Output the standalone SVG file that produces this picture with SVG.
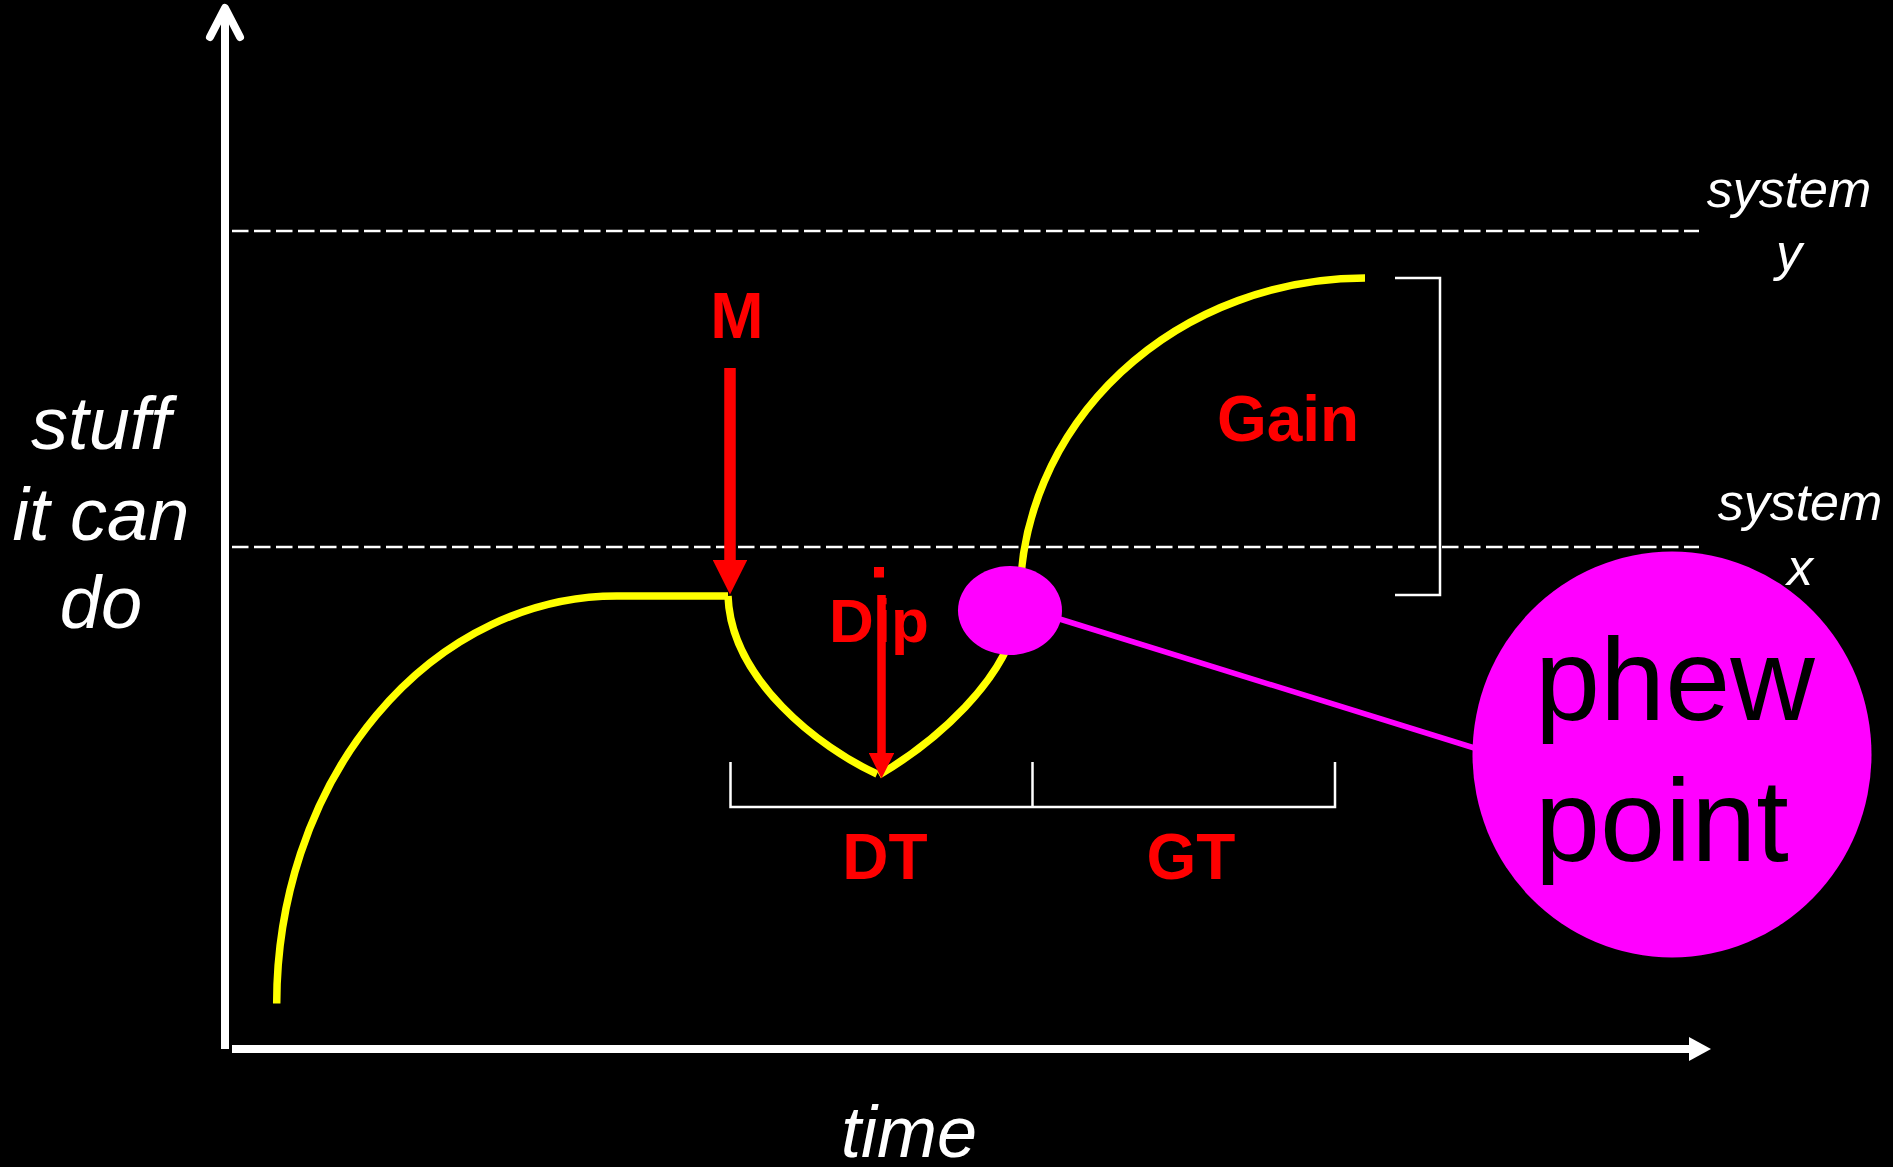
<svg xmlns="http://www.w3.org/2000/svg" width="1893" height="1167" viewBox="0 0 1893 1167">
<style>
.lbl{font-family:"Liberation Sans",Arial,sans-serif}
.wi{fill:#fff;font-style:italic}
.red{fill:#f00;font-weight:bold;font-size:64px}
.dash{stroke:#fff;stroke-width:2.5;stroke-dasharray:16.5 5.5;fill:none}
.brk{stroke:#fff;stroke-width:2.5;fill:none}
.yel{stroke:#ff0;stroke-width:7.5;fill:none}
.rarrow{stroke:#f00;fill:none;marker-end:url(#rhead)}
</style>
<defs>
<marker id="rhead" viewBox="0 0 3 3" markerWidth="3" markerHeight="3" refX="0" refY="1.5" orient="auto" markerUnits="strokeWidth">
<path d="M0,0 L3,1.5 L0,3 z" fill="#f00"/>
</marker>
</defs>
<rect x="0" y="0" width="1893" height="1167" fill="#000"/>

<g id="axes">
<line x1="225" y1="10" x2="225" y2="1049" stroke="#fff" stroke-width="8"/>
<polyline points="210,37 225,8 240,37" stroke="#fff" stroke-width="8" fill="none" stroke-linecap="round" stroke-linejoin="round"/>
<line x1="232" y1="1049" x2="1690" y2="1049" stroke="#fff" stroke-width="8"/>
<polygon points="1689,1037 1711,1049 1689,1061" fill="#fff"/>
</g>

<g id="levels">
<line class="dash" x1="232" y1="231" x2="1699" y2="231"/>
<line class="dash" x1="232" y1="547" x2="1699" y2="547"/>
</g>

<g id="curve">
<path class="yel" d="M276.7,1003.5 A340,407.5 0 0 1 616.7,596 L728,596"/>
<path class="yel" d="M728,596 C731,680 820,748 877,774"/>
<path class="yel" d="M879,775 C925,748 1015,680 1020,600 A345,322 0 0 1 1365,278"/>
</g>

<g id="brackets">
<polyline class="brk" points="1395,278 1440,278 1440,595 1395,595"/>
<polyline class="brk" points="730.5,762 730.5,807 1335,807 1335,762"/>
<line class="brk" x1="1032.5" y1="762" x2="1032.5" y2="807"/>
</g>

<g id="connectors">
<line x1="1058" y1="618.5" x2="1476" y2="748.5" stroke="#f0f" stroke-width="5.5"/>
<line class="rarrow" x1="730" y1="368" x2="730" y2="560" stroke-width="11.5"/>
</g>

<g id="phew-small">
<ellipse cx="1010" cy="610.5" rx="52" ry="44.5" fill="#f0f"/>
</g>

<g id="phew-point">
<ellipse cx="1672" cy="754.5" rx="199.5" ry="203" fill="#f0f"/>
<text class="lbl" x="1535" y="720" font-size="117" fill="#000">phew</text>
<text class="lbl" x="1535" y="861" font-size="117" fill="#000">point</text>
</g>

<g id="label-M">
<text class="lbl red" x="737" y="338" text-anchor="middle">M</text>
</g>

<g id="label-Dip">
<text class="lbl red" x="829" y="642" style="font-size:62px">Dip</text>
<line class="rarrow" x1="881.5" y1="595" x2="881.5" y2="753" stroke-width="8.5"/>
<rect x="874" y="567" width="10" height="10.5" fill="#f00"/>
</g>

<g id="label-Gain">
<text class="lbl red" x="1288" y="441" text-anchor="middle">Gain</text>
</g>

<g id="label-DT">
<text class="lbl red" x="885" y="879" text-anchor="middle">DT</text>
</g>
<g id="label-GT">
<text class="lbl red" x="1191" y="879" text-anchor="middle">GT</text>
</g>

<g id="label-y-axis">
<text class="lbl wi" font-size="74" text-anchor="middle"><tspan x="101" y="449">stuff</tspan><tspan x="101" y="540">it can</tspan><tspan x="101" y="628">do</tspan></text>
</g>

<g id="label-time">
<text class="lbl wi" font-size="72" x="909" y="1157" text-anchor="middle">time</text>
</g>

<g id="label-system-y">
<text class="lbl wi" font-size="52" text-anchor="middle"><tspan x="1789" y="207">system</tspan><tspan x="1789" y="270">y</tspan></text>
</g>
<g id="label-system-x">
<text class="lbl wi" font-size="52" text-anchor="middle"><tspan x="1800" y="520">system</tspan><tspan x="1800" y="585">x</tspan></text>
</g>
</svg>
